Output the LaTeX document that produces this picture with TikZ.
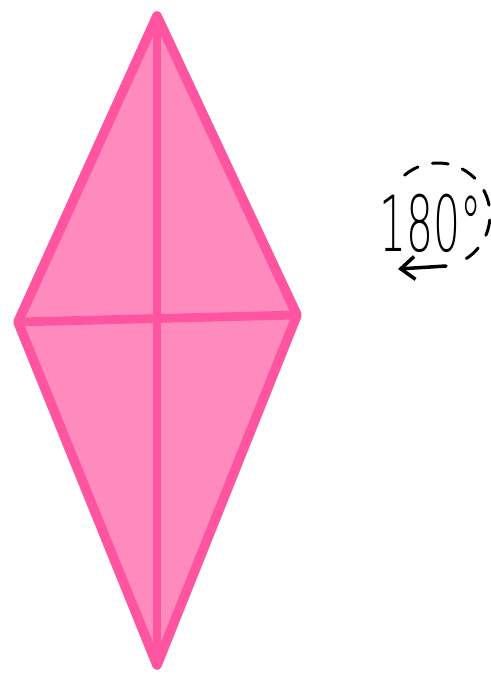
\documentclass[tikz,border=0pt]{standalone}
\usepackage{graphicx}
\usepackage{fontspec}
\newfontfamily\thinfont{DejaVuSans-ExtraLight.ttf}
\definecolor{kiteline}{RGB}{255,85,160}
\definecolor{kitefill}{RGB}{255,138,190}
\usetikzlibrary{arrows.meta}

\begin{document}
\begin{tikzpicture}[x=0.02cm,y=0.02cm]
  \useasboundingbox (0,0) rectangle (491,681);

  % Kite corners
  \coordinate (top) at (157,665);
  \coordinate (left) at (18,359);
  \coordinate (right) at (297,366);
  \coordinate (bottom) at (157,16);

  % Kite with its two diagonals
  \filldraw[kiteline,fill=kitefill,line width=5.5pt,line join=round]
    (top) -- (right) -- (bottom) -- (left) -- cycle;
  \draw[kiteline,line width=5pt] (top) -- (bottom);
  \draw[kiteline,line width=5pt] (left) -- (right);

  % Turn label
  \node[font=\thinfont\fontsize{44}{44}\selectfont,inner sep=0pt] (turn) at (431,458)
    {\scalebox{0.55}[1]{180°}};
  \coordinate (spin) at (438,466);
  \draw[line width=1.7pt,dash pattern=on 9pt off 8.5pt,line cap=round]
    (spin) ++(130:52) arc[start angle=130,end angle=-58,radius=52];
  \coordinate (arrowfrom) at (446,415);
  \coordinate (arrowto) at (398,412);
  \draw[-{Straight Barb[length=8pt,width=13pt,line width=2pt]},line width=2pt,line cap=round]
    (arrowfrom) -- (arrowto);
\end{tikzpicture}
\end{document}
